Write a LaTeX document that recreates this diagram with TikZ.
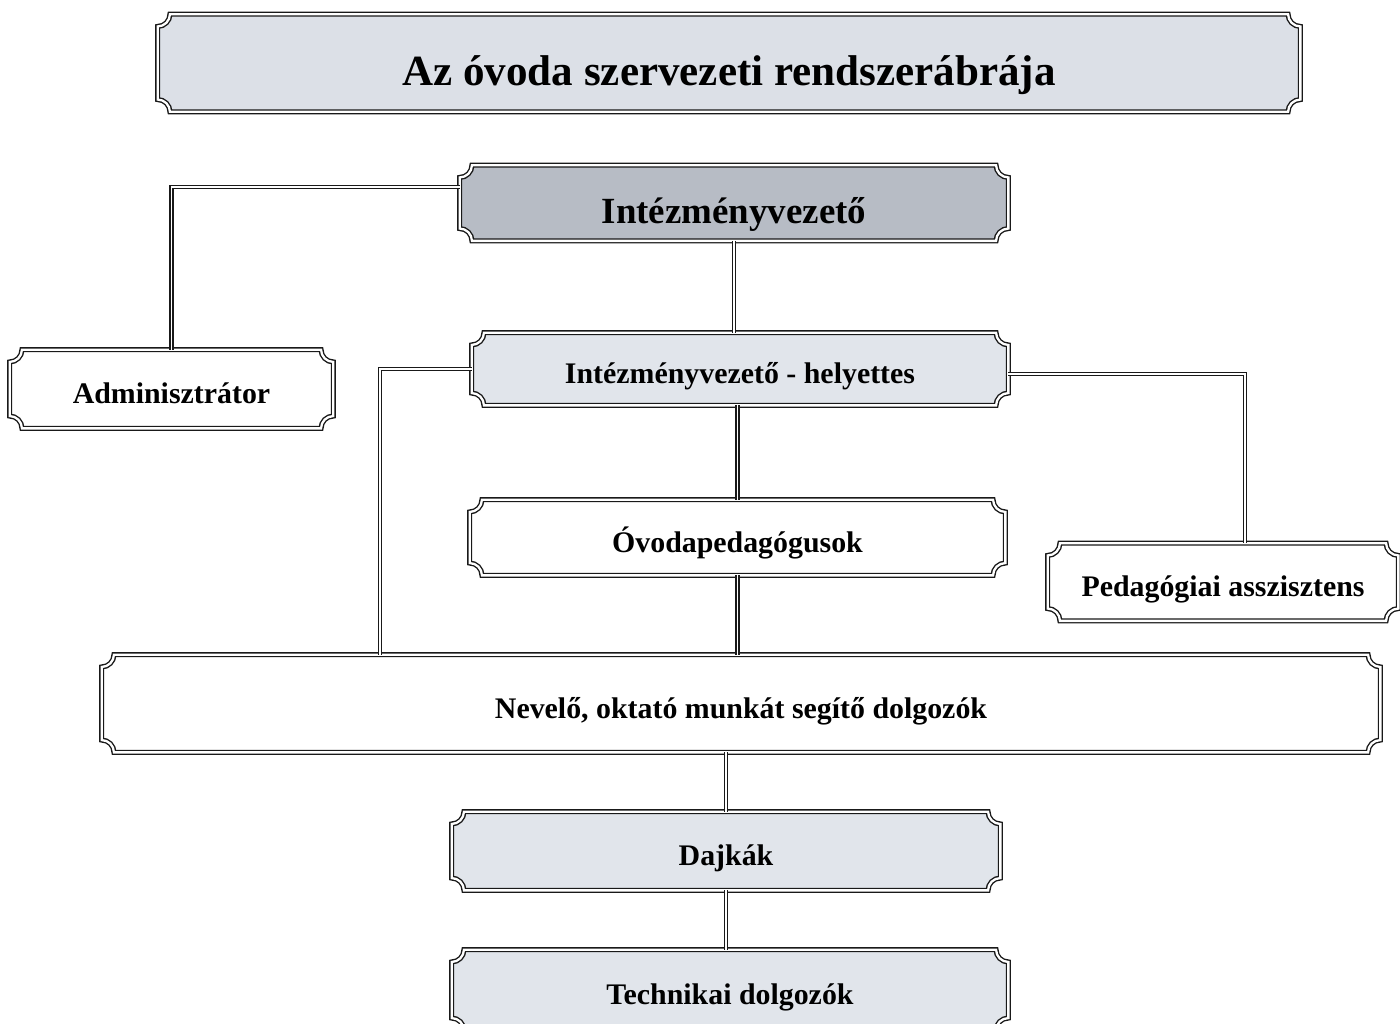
\documentclass[tikz,border=0pt]{standalone}
\usepackage{fontspec}
\setmainfont{Liberation Serif}
\usepackage{tikz}
\usetikzlibrary{
  calc,
  backgrounds
}
\usepackage{xcolor}
\definecolor{cline}{RGB}{25,25,25}
\definecolor{ftitle}{RGB}{220,224,231}
\definecolor{fchief}{RGB}{183,188,197}
\definecolor{flight}{RGB}{225,229,235}
\newcommand{\cornerr}{7pt}
\tikzset{
  plaque/.style={
    rectangle, inner sep=0pt,
    minimum width=#1, minimum height=1.5cm,
    text height=20pt, text depth=3.4pt,
    font=\bfseries\fontsize{17}{20}\selectfont, align=center
  },
  plaque/.default=10.7cm,
  frame/.style={
    draw=cline, line width=0.8pt,
    double=white, double distance=1.3pt
  },
  link/.style={
    draw=cline, line width=0.6pt,
    double=white, double distance=1.1pt
  }
}
% double frame with hollow corners round a named node
\newcommand{\plaque}[2]{%
  \path[frame, fill=#2]
    ($(#1.north west)+(\cornerr,0)$) -- ($(#1.north east)+(-\cornerr,0)$)
    arc[start angle=180, end angle=270, radius=\cornerr]
    -- ($(#1.south east)+(0,\cornerr)$)
    arc[start angle=90, end angle=180, radius=\cornerr]
    -- ($(#1.south west)+(\cornerr,0)$)
    arc[start angle=0, end angle=90, radius=\cornerr]
    -- ($(#1.north west)+(0,-\cornerr)$)
    arc[start angle=270, end angle=360, radius=\cornerr]
    -- cycle;}

\begin{document}
\begin{tikzpicture}

    \useasboundingbox (0,0) rectangle (28,-20.46);

    %% ---- Title -----------------------------------------------------
    \node[plaque=22.84cm, minimum height=1.94cm,
          text height=31pt, text depth=5pt,
          font=\bfseries\fontsize{24.5}{28}\selectfont] (title)
      at (14.58,-1.26) {Az óvoda szervezeti rendszerábrája};

    %% ---- Management ------------------------------------------------
    \node[plaque=10.96cm, text height=27pt, text depth=4pt,
          font=\bfseries\fontsize{21}{24}\selectfont]
      (chief) at (14.68,-4.06) {Intézményvezető};
    \node[plaque=6.46cm, minimum height=1.56cm] (admin)
      at (3.43,-7.78) {Adminisztrátor};
    \node[plaque=10.72cm, minimum height=1.44cm] (deputy)
      at (14.80,-7.38) {Intézményvezető - helyettes};

    %% ---- Staff -----------------------------------------------------
    \node[plaque] (teachers) at (14.75,-10.75) {Óvodapedagógusok};
    \node[plaque=7.0cm, minimum height=1.54cm] (assistant)
      at (24.46,-11.64) {Pedagógiai asszisztens};
    \node[plaque=25.56cm, minimum height=1.94cm] (support)
      at (14.82,-14.07) {Nevelő, oktató munkát segítő dolgozók};
    \node[plaque=10.96cm, minimum height=1.56cm] (nannies)
      at (14.52,-17.02) {Dajkák};
    \node[plaque=11.12cm, minimum height=1.6cm] (tech)
      at (14.60,-19.80) {Technikai dolgozók};

    %% ---- Frames ----------------------------------------------------
    \begin{scope}[on background layer]
      \foreach \n/\c in {title/ftitle, chief/fchief, admin/white,
                         deputy/flight, teachers/white, assistant/white,
                         support/white, nannies/flight, tech/flight}
        \plaque{\n}{\c};
    \end{scope}

    %% ---- Connectors ------------------------------------------------
    \draw[link] ([yshift=9pt]chief.west) -| (admin.north);
    \draw[link] (chief.south) -- (chief.south |- deputy.north);
    \draw[link] (deputy.west) -| ($(support.north west)+(5.56,0)$);
    \draw[link] ([yshift=-3pt]deputy.east) -| ([xshift=0.44cm]assistant.north);
    \draw[link] (teachers.north |- deputy.south) -- (teachers.north);
    \draw[link] (teachers.south) -- (teachers.south |- support.north);
    \draw[link] (nannies.north |- support.south) -- (nannies.north);
    \draw[link] (nannies.south) -- (nannies.south |- tech.north);

\end{tikzpicture}
\end{document}
